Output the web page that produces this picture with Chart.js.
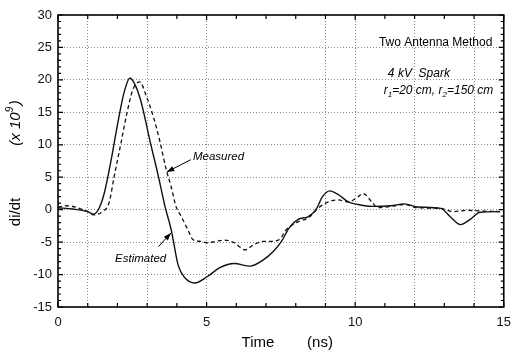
<!DOCTYPE html>
<html>
<head>
<meta charset="utf-8">
<script src="https://cdn.jsdelivr.net/npm/chart.js@4.4.1/dist/chart.umd.min.js"></script>
<style>
    html, body { margin: 0; padding: 0; background: #fff; }
    #wrap { width: 519px; height: 354px; }
</style>
</head>
<body>
<div id="wrap"><canvas id="chart" width="519" height="354"></canvas></div>
<script>
// values (time in ns, di/dt in units of 10^9)
const estimatedTime = [0, 0.5, 1.0, 1.2, 1.39, 1.56, 1.79, 1.99, 2.22, 2.42, 2.6, 2.78, 3.11, 3.38, 3.6, 3.81, 4.04, 4.27, 4.6, 5.03, 5.46, 5.93, 6.46, 6.92, 7.25, 7.52, 7.78, 8.08, 8.41, 8.68, 8.9, 9.14, 9.44, 9.77, 10.1, 10.56, 11.2, 11.66, 12.09, 12.88, 13.2, 13.54, 13.87, 14.2, 14.87];
const estimatedValue = [0.3, 0.1, -0.3, -0.7, 0.3, 2.6, 7.7, 12.8, 18, 20.3, 19.2, 16.9, 10.3, 5.1, 0.5, -3.1, -8.5, -10.5, -11.3, -10.3, -8.9, -8.3, -8.7, -7.7, -6.4, -4.9, -2.8, -1.5, -1.1, 0, 2, 2.9, 2.3, 1.2, 0.8, 0.5, 0.6, 0.9, 0.4, 0.2, -1.1, -2.3, -1.5, -0.4, -0.3];

const measuredTime = [0, 0.3, 1.0, 1.2, 1.5, 1.72, 1.89, 2.12, 2.32, 2.52, 2.75, 2.98, 3.21, 3.44, 3.64, 3.81, 3.97, 4.14, 4.37, 4.54, 4.8, 5.03, 5.3, 5.6, 5.93, 6.13, 6.29, 6.59, 6.9, 7.12, 7.45, 7.68, 8.01, 8.44, 8.77, 9.11, 9.44, 9.77, 10.1, 10.26, 10.56, 10.76, 11.2, 11.66, 12.09, 12.88, 13.3, 13.74, 14.2, 14.87];
const measuredValue = [0.4, 0.6, -0.3, -0.8, -0.3, 1.1, 5.1, 10.3, 14.9, 18.5, 19.7, 17.4, 14.3, 10.3, 6.2, 3.5, 0.5, -1.0, -3.1, -4.6, -4.9, -5.1, -4.9, -4.7, -5.1, -5.8, -6.2, -5.4, -4.9, -4.9, -4.6, -3.1, -2.0, -1.2, 0.3, 1.2, 1.5, 1.2, 2.0, 2.5, 1.2, 0.3, 0.5, 0.8, 0.3, 0.2, -0.3, -0.1, -0.2, -0.3];

const xTickLabels = [0, 5, 10, 15];
const yTickLabels = [-15, -10, -5, 0, 5, 10, 15, 20, 25, 30];
const xGridAt = [1, 3, 5, 9, 10, 12, 14];

const FONT = '"Liberation Sans", Arial, sans-serif';

function toPoints(ts, vs) {
    return ts.map((t, i) => ({ x: t, y: vs[i] }));
}

function arrow(ctx, x1, y1, x2, y2) {
    const a = Math.atan2(y2 - y1, x2 - x1);
    ctx.beginPath();
    ctx.moveTo(x1, y1);
    ctx.lineTo(x2, y2);
    ctx.stroke();
    ctx.beginPath();
    ctx.moveTo(x2, y2);
    ctx.lineTo(x2 - 8 * Math.cos(a - 0.35), y2 - 8 * Math.sin(a - 0.35));
    ctx.lineTo(x2 - 8 * Math.cos(a + 0.35), y2 - 8 * Math.sin(a + 0.35));
    ctx.closePath();
    ctx.fill();
}

const decorations = {
    id: 'decorations',
    afterDraw(chart) {
        const ctx = chart.ctx;
        const { left, right, top, bottom } = chart.chartArea;
        const xs = chart.scales.x, ys = chart.scales.y;
        const px = v => xs.getPixelForValue(v);
        const py = v => ys.getPixelForValue(v);
        ctx.save();
        ctx.strokeStyle = '#000';
        ctx.fillStyle = '#000';

        // frame
        ctx.lineWidth = 1.6;
        ctx.strokeRect(left, top, right - left, bottom - top);

        // inward tick marks
        ctx.lineWidth = 1.2;
        ctx.beginPath();
        xs.ticks.forEach(t => {
            const x = px(t.value);
            const len = t.value % 5 === 0 ? 5 : 4;
            ctx.moveTo(x, bottom); ctx.lineTo(x, bottom - len);
            ctx.moveTo(x, top); ctx.lineTo(x, top + len);
        });
        ys.ticks.forEach(t => {
            const y = py(t.value);
            const len = t.value % 5 === 0 ? 5 : 3;
            ctx.moveTo(left, y); ctx.lineTo(left + len, y);
            ctx.moveTo(right, y); ctx.lineTo(right - len, y);
        });
        ctx.stroke();

        // axis titles
        ctx.font = '15px ' + FONT;
        ctx.textBaseline = 'middle';
        ctx.textAlign = 'center';
        ctx.fillText('Time', 258, 343);
        ctx.fillText('(ns)', 320, 343);

        ctx.save();
        ctx.translate(16, 212);
        ctx.rotate(-Math.PI / 2);
        ctx.fillText('di/dt', 0, 0);
        ctx.restore();

        ctx.save();
        ctx.translate(16, 122);
        ctx.rotate(-Math.PI / 2);
        ctx.font = 'italic 15px ' + FONT;
        ctx.textAlign = 'left';
        const main = '(x 10';
        const w1 = ctx.measureText(main).width;
        ctx.font = 'italic 15px ' + FONT;
        const start = -(w1 + 14) / 2;
        ctx.fillText(main, start, 0);
        ctx.font = 'italic 10px ' + FONT;
        ctx.fillText('9', start + w1, -6);
        ctx.font = 'italic 15px ' + FONT;
        ctx.fillText(')', start + w1 + 7, 0);
        ctx.restore();

        // notes
        ctx.textAlign = 'left';
        ctx.font = '12px ' + FONT;
        ctx.fillText('Two Antenna Method', px(10.8), py(25.8));

        ctx.font = 'italic 12px ' + FONT;
        ctx.fillText('4 kV  Spark', px(11.1), py(20.9));

        let x = px(10.96);
        const yr = py(18.3);
        const parts = [['r', 0], ['1', 1], ['=20 cm, r', 0], ['2', 1], ['=150 cm', 0]];
        parts.forEach(([s, sub]) => {
            ctx.font = (sub ? 'italic 8px ' : 'italic 12px ') + FONT;
            ctx.fillText(s, x, yr + (sub ? 4 : 0));
            x += ctx.measureText(s).width;
        });

        ctx.font = 'italic 11.5px ' + FONT;
        ctx.fillText('Measured', px(4.54), py(8.2));
        ctx.fillText('Estimated', px(1.92), py(-7.5));

        ctx.lineWidth = 1;
        arrow(ctx, px(4.47), py(7.7), px(3.66), py(5.8));
        arrow(ctx, px(3.38), py(-5.7), px(3.8), py(-3.6));
        ctx.restore();
    }
};

new Chart(document.getElementById('chart'), {
    type: 'line',
    data: {
        datasets: [
            {
                label: 'Estimated',
                data: toPoints(estimatedTime, estimatedValue),
                borderColor: '#111',
                borderWidth: 1.4,
                pointRadius: 0,
                fill: false,
                cubicInterpolationMode: 'monotone'
            },
            {
                label: 'Measured',
                data: toPoints(measuredTime, measuredValue),
                borderColor: '#111',
                borderWidth: 1.3,
                borderDash: [4, 3],
                pointRadius: 0,
                fill: false,
                cubicInterpolationMode: 'monotone'
            }
        ]
    },
    options: {
        responsive: false,
        animation: false,
        devicePixelRatio: 1,
        layout: { padding: { top: 15, right: 8, left: 0, bottom: 0 } },
        plugins: { legend: { display: false }, tooltip: { enabled: false } },
        scales: {
            x: {
                type: 'linear',
                min: 0,
                max: 15,
                afterFit: scale => { scale.height = 47; },
                ticks: {
                    stepSize: 1,
                    autoSkip: false,
                    maxRotation: 0,
                    padding: 8,
                    color: '#111',
                    font: { family: FONT, size: 13 },
                    callback: v => xTickLabels.includes(v) ? String(v) : ''
                },
                grid: {
                    drawTicks: false,
                    lineWidth: 1,
                    color: c => (c.tick && xGridAt.includes(c.tick.value)) ? '#8c8c8c' : 'rgba(0,0,0,0)'
                },
                border: { display: false, dash: [1, 2] }
            },
            y: {
                min: -15,
                max: 30,
                afterFit: scale => { scale.width = 58; },
                ticks: {
                    stepSize: 1,
                    autoSkip: false,
                    padding: 6,
                    color: '#111',
                    font: { family: FONT, size: 13 },
                    callback: v => yTickLabels.includes(v) ? String(v) : ''
                },
                grid: {
                    drawTicks: false,
                    lineWidth: 1,
                    color: c => (c.tick && c.tick.value % 5 === 0 && c.tick.value > -15 && c.tick.value < 30) ? '#8c8c8c' : 'rgba(0,0,0,0)'
                },
                border: { display: false, dash: [1, 2] }
            }
        }
    },
    plugins: [decorations]
});
</script>
</body>
</html>
